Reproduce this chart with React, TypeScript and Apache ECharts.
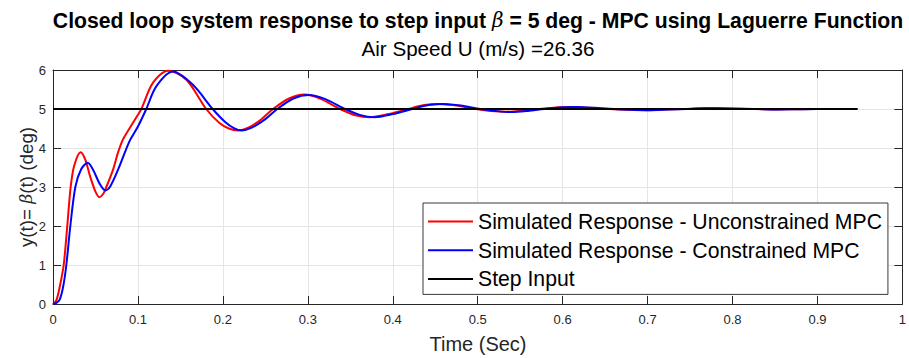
import React, { useEffect, useRef } from "react";
import * as echarts from "echarts";

const FONT = '"Liberation Sans", Arial, Helvetica, sans-serif';

const titleText = "Closed loop system response to step input ";
const titleTail = " = 5 deg - MPC using Laguerre Function";
const subTitle = "Air Speed U (m/s) =26.36";
const xName = "Time (Sec)";

const seriesNames = [
  "Simulated Response - Unconstrained MPC",
  "Simulated Response - Constrained MPC",
  "Step Input",
];

const redT = [0, 0.004, 0.008, 0.0126, 0.0168, 0.0208, 0.025, 0.0326, 0.038, 0.044, 0.05, 0.0545, 0.059, 0.0628, 0.0706, 0.0765, 0.0824, 0.09, 0.1, 0.104, 0.1176, 0.1353, 0.157, 0.1804, 0.196, 0.207, 0.218, 0.23, 0.245, 0.259, 0.278, 0.296, 0.315, 0.338, 0.356, 0.373, 0.395, 0.418, 0.437, 0.455, 0.475, 0.498, 0.516, 0.534, 0.554, 0.573, 0.592, 0.612, 0.633, 0.655, 0.676, 0.698, 0.72, 0.742, 0.765, 0.79, 0.82, 0.85, 0.88, 0.91, 0.947];
const redY = [0, 0.1, 0.45, 1.0, 2.0, 3.0, 3.55, 3.89, 3.7, 3.25, 2.88, 2.74, 2.82, 3.0, 3.44, 3.88, 4.22, 4.5, 4.85, 5.0, 5.67, 5.98, 5.75, 5.0, 4.64, 4.5, 4.45, 4.52, 4.73, 5.0, 5.27, 5.37, 5.26, 5.0, 4.84, 4.79, 4.87, 5.0, 5.1, 5.13, 5.09, 5.0, 4.95, 4.93, 4.96, 5.0, 5.04, 5.05, 5.03, 5.0, 4.98, 4.97, 4.985, 5.0, 5.02, 5.015, 5.0, 4.99, 4.995, 5.0, 5.0];

const blueT = [0, 0.004, 0.008, 0.012, 0.0157, 0.0204, 0.0263, 0.033, 0.0408, 0.047, 0.055, 0.0616, 0.067, 0.0765, 0.09, 0.1, 0.1098, 0.1216, 0.1412, 0.1647, 0.188, 0.203, 0.213, 0.222, 0.234, 0.25, 0.264, 0.283, 0.301, 0.32, 0.344, 0.361, 0.378, 0.4, 0.423, 0.442, 0.46, 0.48, 0.503, 0.521, 0.539, 0.559, 0.578, 0.597, 0.617, 0.638, 0.66, 0.681, 0.703, 0.725, 0.747, 0.77, 0.795, 0.825, 0.855, 0.885, 0.915, 0.947];
const blueY = [0, 0.03, 0.12, 0.45, 1.0, 2.0, 3.0, 3.45, 3.62, 3.45, 3.08, 2.91, 3.0, 3.44, 4.17, 4.55, 5.0, 5.58, 5.96, 5.62, 5.0, 4.66, 4.51, 4.45, 4.52, 4.74, 5.0, 5.27, 5.36, 5.26, 5.0, 4.85, 4.79, 4.87, 5.0, 5.1, 5.13, 5.09, 5.0, 4.95, 4.92, 4.95, 5.0, 5.04, 5.05, 5.03, 5.0, 4.98, 4.97, 4.985, 5.0, 5.02, 5.015, 5.0, 4.99, 4.995, 5.0, 5.0];

const stepT = [0, 0.947];
const stepY = [5, 5];

const zip = (t: number[], y: number[]) => t.map((v, i) => [v, y[i]]);

const AX = "#262626";
const GRID = "#e4e4e4";

export default function App() {
  const ref = useRef<HTMLDivElement>(null);
  useEffect(() => {
    document.body.style.margin = "0";
    if (!ref.current) return;
    const chart = echarts.init(ref.current, undefined, { renderer: "svg" });
    const gridL = 53, gridR = 6, gridT = 70, gridB = 54;
    const plotCx = gridL + (909 - gridL - gridR) / 2;
    const plotCy = gridT + (358 - gridT - gridB) / 2;

    const baseX = {
      type: "value" as const,
      min: 0,
      max: 1,
      interval: 0.1,
      axisLine: { show: true, onZero: false, lineStyle: { color: AX, width: 1 } },
      axisTick: { show: true, inside: true, length: 8, lineStyle: { color: AX, width: 1 } },
    };
    const baseY = {
      type: "value" as const,
      min: 0,
      max: 6,
      interval: 1,
      axisLine: { show: true, onZero: false, lineStyle: { color: AX, width: 1 } },
      axisTick: { show: true, inside: true, length: 8, lineStyle: { color: AX, width: 1 } },
    };

    chart.setOption({
      animation: false,
      backgroundColor: "#ffffff",
      grid: { left: gridL, right: gridR, top: gridT, bottom: gridB, containLabel: false },
      xAxis: [
        {
          ...baseX,
          position: "bottom",
          axisLabel: { fontSize: 13, color: AX, margin: 9, fontFamily: FONT },
          splitLine: { show: true, lineStyle: { color: GRID, width: 1 } },
        },
        {
          ...baseX,
          position: "top",
          axisLabel: { show: false },
          splitLine: { show: false },
        },
      ],
      yAxis: [
        {
          ...baseY,
          position: "left",
          axisLabel: { fontSize: 13, color: AX, margin: 7, fontFamily: FONT },
          splitLine: { show: true, lineStyle: { color: GRID, width: 1 } },
        },
        {
          ...baseY,
          position: "right",
          axisLabel: { show: false },
          splitLine: { show: false },
        },
      ],
      legend: {
        orient: "vertical",
        left: 423,
        top: 203,
        icon: "rect",
        itemWidth: 45,
        itemHeight: 2,
        itemGap: 7.7,
        padding: [8, 6, 5, 5],
        borderColor: "#3a3a3a",
        borderWidth: 1,
        backgroundColor: "#ffffff",
        textStyle: { fontSize: 21.2, color: "#000", fontFamily: FONT, lineHeight: 20 },
        data: seriesNames,
      },
      series: [
        {
          name: seriesNames[0],
          type: "line",
          data: zip(redT, redY),
          smooth: 0.3,
          symbol: "none",
          lineStyle: { color: "#ff0000", width: 2 },
          itemStyle: { color: "#ff0000" },
          z: 3,
        },
        {
          name: seriesNames[1],
          type: "line",
          data: zip(blueT, blueY),
          smooth: 0.3,
          symbol: "none",
          lineStyle: { color: "#0000ff", width: 2 },
          itemStyle: { color: "#0000ff" },
          z: 4,
        },
        {
          name: seriesNames[2],
          type: "line",
          data: zip(stepT, stepY),
          symbol: "none",
          lineStyle: { color: "#000000", width: 2 },
          itemStyle: { color: "#000000" },
          z: 5,
        },
      ],
      graphic: [
        {
          type: "text",
          x: plotCx,
          y: 20,
          style: {
            text: "{b|" + titleText + "}{g|β}{b|" + titleTail + "}",
            align: "center",
            verticalAlign: "middle",
            rich: {
              b: { fontFamily: FONT, fontWeight: "bold", fontSize: 21.2, fill: "#000" },
              g: { fontFamily: '"DejaVu Serif", "Liberation Serif", serif', fontStyle: "italic", fontSize: 20, fill: "#000" },
            },
          },
        },
        {
          type: "text",
          x: plotCx,
          y: 48.5,
          style: {
            text: subTitle,
            align: "center",
            verticalAlign: "middle",
            fontFamily: FONT,
            fontSize: 20.6,
            fill: "#000",
          },
        },
        {
          type: "text",
          x: plotCx,
          y: 343.5,
          style: {
            text: xName,
            align: "center",
            verticalAlign: "middle",
            fontFamily: FONT,
            fontSize: 20,
            fill: AX,
          },
        },
        {
          type: "text",
          x: 26,
          y: plotCy,
          rotation: Math.PI / 2,
          style: {
            text: "{n|y(t)= }{g|β}{n|(t) (deg)}",
            align: "center",
            verticalAlign: "middle",
            rich: {
              n: { fontFamily: FONT, fontSize: 18.8, fill: AX },
              g: { fontFamily: '"DejaVu Serif", "Liberation Serif", serif', fontStyle: "italic", fontSize: 17.5, fill: AX },
            },
          },
        },
      ],
    });
    return () => chart.dispose();
  }, []);
  return <div ref={ref} style={{ width: 909, height: 358 }} />;
}
